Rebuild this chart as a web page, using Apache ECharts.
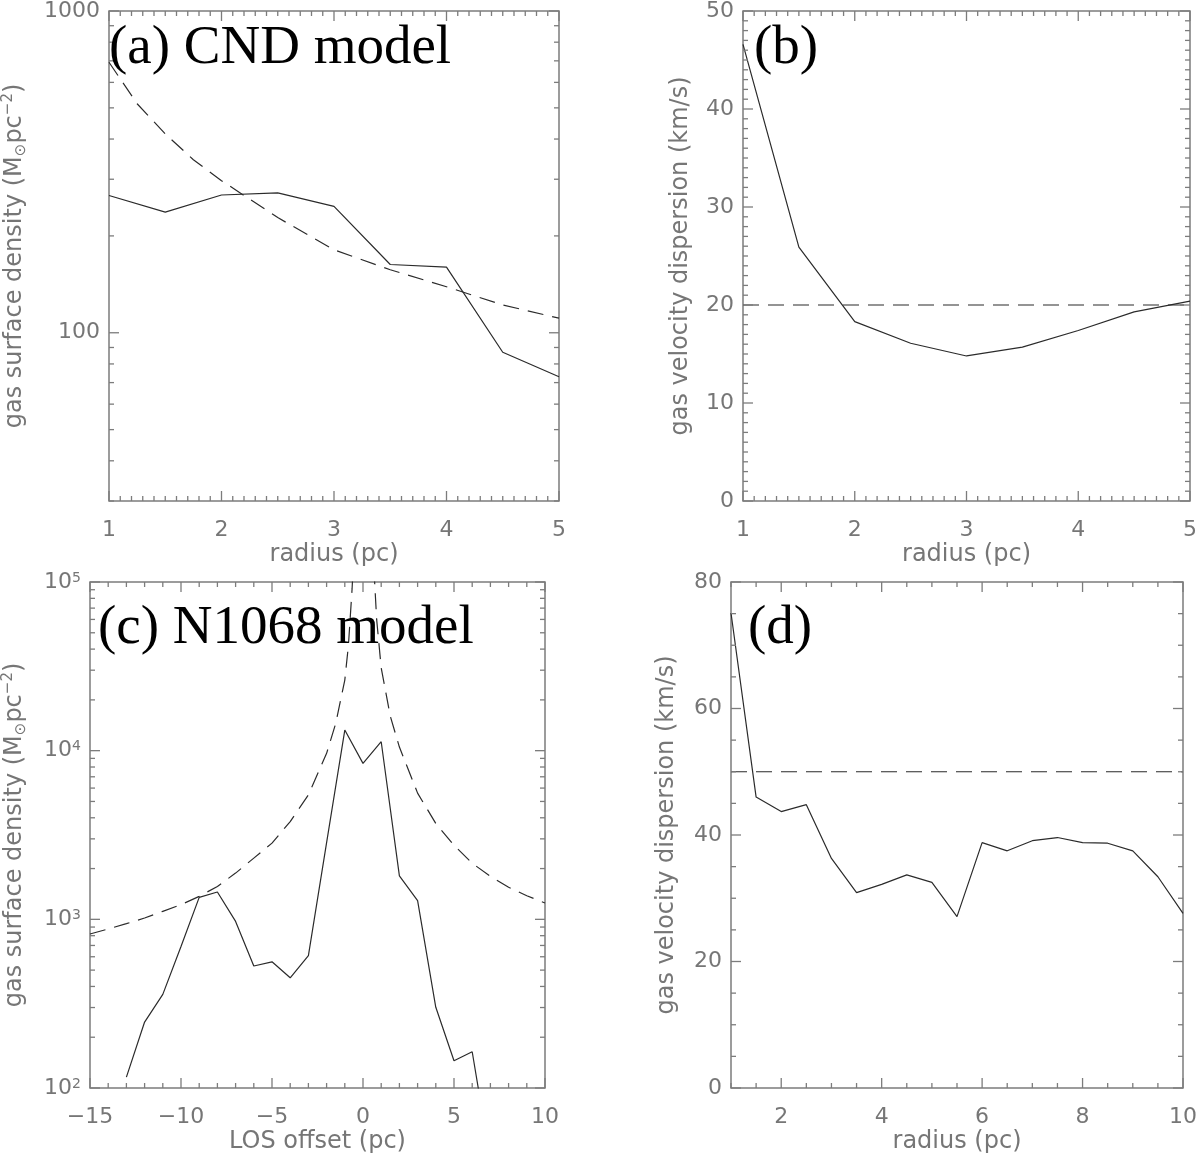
<!DOCTYPE html>
<html><head><meta charset="utf-8">
<script src="https://cdn.jsdelivr.net/npm/echarts@6/dist/echarts.min.js"></script>
<style>html,body{margin:0;padding:0;background:#fff}#c{width:1200px;height:1158px}</style>
</head><body><div id="c"></div>
<script>
// ---------- data ----------
// (a) CND model: gas surface density vs radius
const aRadius = [1, 1.5, 2, 2.5, 3, 3.5, 4, 4.5, 5];
const aDensity = [267, 237, 268, 272, 247, 163, 160, 87, 73];
const aModelRadius = [1, 1.25, 1.5, 1.75, 2, 2.5, 3, 3.5, 4, 4.5, 5];
const aModel = [693, 515, 415, 345, 297, 228, 181, 157, 139, 122, 111];
// (b) CND model: velocity dispersion vs radius
const bRadius = [1, 1.5, 2, 2.5, 3, 3.5, 4, 4.5, 5];
const bSigma = [46.6, 25.9, 18.3, 16.1, 14.8, 15.7, 17.4, 19.3, 20.4];
const bModelRadius = [1, 5];
const bModel = [20, 20];
// (c) N1068 model: gas surface density vs LOS offset
const cOffset = [-13, -12, -11, -10, -9, -8, -7, -6, -5, -4, -3, -2, -1, 0, 1, 2, 3, 4, 5, 6, 7];
const cDensity = [116, 246, 359, 690, 1350, 1452, 972, 529, 560, 450, 610, 2850, 13250, 8410, 11300, 1810, 1290, 301, 145, 164, 37];
const cModelOffset = [-15, -14, -13, -12, -11, -10, -9, -8, -7, -6, -5, -4, -3, -2, -1.5, -1, -0.8, -0.6, -0.5,
                      0.5, 0.6, 0.75, 1, 1.5, 2, 3, 4, 5, 6, 7, 8, 9, 10];
const cModel = [819, 877, 943, 1018, 1115, 1222, 1368, 1567, 1880, 2306, 2830, 3800, 5470, 9640, 14500, 26200, 42200, 91000, 150000,
                150000, 120000, 60000, 31000, 16000, 10500, 5600, 3700, 2750, 2150, 1800, 1550, 1380, 1250];
// (d) N1068 model: velocity dispersion vs radius
const dRadius = [1, 1.5, 2, 2.5, 3, 3.5, 4, 4.5, 5, 5.5, 6, 6.5, 7, 7.5, 8, 8.5, 9, 9.5, 10];
const dSigma = [75.1, 46.0, 43.7, 44.8, 36.3, 30.9, 32.2, 33.7, 32.5, 27.1, 38.8, 37.5, 39.1, 39.6, 38.8, 38.7, 37.5, 33.4, 27.6];
const dModelRadius = [1, 10];
const dModel = [50, 50];

// ---------- ticks / labels ----------
const aXMajor = [1, 2, 3, 4, 5];
const aYMajor = [100, 1000];
const aYMinor = [30, 40, 50, 60, 70, 80, 90, 200, 300, 400, 500, 600, 700, 800, 900];
const bXMajor = [1, 2, 3, 4, 5];
const bYMajor = [0, 10, 20, 30, 40, 50];
const cXMajor = [-15, -10, -5, 0, 5, 10];
const cYMajor = [100, 1000, 10000, 100000];
const cYMinor = [200, 300, 400, 500, 600, 700, 800, 900, 2000, 3000, 4000, 5000, 6000, 7000, 8000, 9000,
                 20000, 30000, 40000, 50000, 60000, 70000, 80000, 90000];
const dXMajor = [2, 4, 6, 8, 10];
const dYMajor = [0, 20, 40, 60, 80];

const titles = ['(a) CND model', '(b)', '(c) N1068 model', '(d)'];
const xNames = ['radius (pc)', 'radius (pc)', 'LOS offset (pc)', 'radius (pc)'];

// ---------- style ----------
const FONT = 'DejaVu Sans';
const TXT = '#767676';
const FRAME = '#7c7c7c';
const LINE = '#2b2b2b';
const DASH = [16, 9];

function steps(a, b, s) { const r = []; const n = Math.round((b - a) / s); for (let i = 0; i <= n; i++) r.push(+(a + i * s).toFixed(6)); return r; }
function pairs(xs, ys) { return xs.map((x, i) => [x, ys[i]]); }
function isDecade(v) { const l = Math.log10(v); return Math.abs(l - Math.round(l)) < 1e-6; }

function tickData(xMajor, xMinor, yMajor, yMinor, xRef, yRef) {
  const d = [];
  xMajor.forEach(v => d.push([v, yRef, 0, 1]));
  xMinor.forEach(v => { if (!xMajor.some(m => Math.abs(m - v) < 1e-9)) d.push([v, yRef, 0, 0]); });
  yMajor.forEach(v => d.push([xRef, v, 1, 1]));
  yMinor.forEach(v => { if (!yMajor.some(m => Math.abs(m - v) < 1e-9)) d.push([xRef, v, 1, 0]); });
  return d;
}
function tickSeries(gi, data) {
  return {
    type: 'custom', xAxisIndex: gi, yAxisIndex: gi, data: data, silent: true, clip: false, z: 5,
    encode: { x: 0, y: 1 }, animation: false,
    renderItem: function (params, api) {
      const cs = params.coordSys;
      const p = api.coord([api.value(0), api.value(1)]);
      const len = api.value(3) ? 10 : 5;
      const st = { stroke: FRAME, lineWidth: 1.3 };
      if (api.value(2) === 0) {
        const x = p[0];
        return { type: 'group', children: [
          { type: 'line', shape: { x1: x, y1: cs.y + cs.height, x2: x, y2: cs.y + cs.height - len }, style: st },
          { type: 'line', shape: { x1: x, y1: cs.y, x2: x, y2: cs.y + len }, style: st }] };
      } else {
        const y = p[1];
        return { type: 'group', children: [
          { type: 'line', shape: { x1: cs.x, y1: y, x2: cs.x + len, y2: y }, style: st },
          { type: 'line', shape: { x1: cs.x + cs.width, y1: y, x2: cs.x + cs.width - len, y2: y }, style: st }] };
      }
    }
  };
}

const labelStyle = { fontFamily: FONT, fontSize: 22, color: TXT };
const nameStyle = { fontFamily: FONT, fontSize: 24, color: TXT };
function xAx(gi, min, max, interval, name, fmt) {
  return {
    type: 'value', gridIndex: gi, min: min, max: max, interval: interval,
    name: name, nameLocation: 'middle', nameGap: 42,
    nameTextStyle: Object.assign({}, nameStyle),
    axisLine: { show: false }, axisTick: { show: false }, splitLine: { show: false },
    axisLabel: Object.assign({ margin: 18, formatter: fmt, showMinLabel: true, showMaxLabel: true }, labelStyle)
  };
}
const nameRich = {
  sub: { fontFamily: FONT, fontSize: 15, color: TXT, padding: [12, 0, 0, 0] },
  sup: { fontFamily: FONT, fontSize: 15, color: TXT, padding: [0, 0, 13, 0] }
};
function yAx(gi, type, min, max, interval, name, gap, fmt, rich) {
  const ax = {
    type: type, gridIndex: gi, min: min, max: max,
    name: name, nameLocation: 'middle', nameGap: gap, nameRotate: 90,
    nameTextStyle: Object.assign({ rich: nameRich }, nameStyle),
    axisLine: { show: false }, axisTick: { show: false }, splitLine: { show: false },
    axisLabel: Object.assign({ margin: 9, formatter: fmt }, labelStyle)
  };
  if (interval != null) ax.interval = interval;
  if (type === 'log') ax.logBase = 10;
  if (rich) ax.axisLabel.rich = rich;
  return ax;
}

const powRich = {
  b: { fontFamily: FONT, fontSize: 22, color: TXT, lineHeight: 22, verticalAlign: 'bottom' },
  s: { fontFamily: FONT, fontSize: 14, color: TXT, lineHeight: 14, padding: [0, 0, 8, 0], verticalAlign: 'top' }
};

const gridBase = { show: true, borderColor: FRAME, borderWidth: 1.5, backgroundColor: 'transparent', containLabel: false };
const grids = [
  Object.assign({ left: 109, top: 1, width: 450, height: 500 }, gridBase),
  Object.assign({ left: 743, top: 1, width: 450, height: 500 }, gridBase),
  Object.assign({ left: 90, top: 582, width: 455, height: 506 }, gridBase),
  Object.assign({ left: 731, top: 582, width: 456, height: 506 }, gridBase)
];

const titleStyle = { fontFamily: 'Liberation Serif', fontSize: 55, fontWeight: 'normal', color: '#000' };
const titleComps = [
  { text: titles[0], left: 109, top: 21, padding: 0, textStyle: titleStyle },
  { text: titles[1], left: 754, top: 21, padding: 0, textStyle: titleStyle },
  { text: titles[2], left: 98, top: 601, padding: 0, textStyle: titleStyle },
  { text: titles[3], left: 748, top: 601, padding: 0, textStyle: titleStyle }
];

const minusFmt = v => String(v).replace('-', '\u2212');

const option = {
  animation: false,
  backgroundColor: '#fff',
  title: titleComps,
  grid: grids,
  xAxis: [
    xAx(0, 1, 5, 1, xNames[0], v => String(v)),
    xAx(1, 1, 5, 1, xNames[1], v => String(v)),
    xAx(2, -15, 10, 5, xNames[2], minusFmt),
    xAx(3, 1, 10, 1, xNames[3], v => (dXMajor.indexOf(v) >= 0 ? String(v) : ''))
  ],
  yAxis: [
    yAx(0, 'log', 30, 1000, null, 'gas surface density (M{sub|⊙}pc{sup|−2})', 80,
        v => (isDecade(v) ? String(Math.round(v)) : '')),
    yAx(1, 'value', 0, 50, 10, 'gas velocity dispersion (km/s)', 50, v => String(v)),
    yAx(2, 'log', 100, 100000, null, 'gas surface density (M{sub|⊙}pc{sup|−2})', 61,
        v => (isDecade(v) ? '{b|10}{s|' + String(Math.round(Math.log10(v))) + '}' : ''), powRich),
    yAx(3, 'value', 0, 80, 20, 'gas velocity dispersion (km/s)', 52, v => String(v))
  ],
  series: [
    tickSeries(0, tickData(aXMajor, steps(1, 5, 0.1), aYMajor, aYMinor, 3, 100)),
    tickSeries(1, tickData(bXMajor, steps(1, 5, 0.1), bYMajor, steps(0, 50, 1), 3, 25)),
    tickSeries(2, tickData(cXMajor, steps(-15, 10, 1), cYMajor, cYMinor, 0, 1000)),
    tickSeries(3, tickData(dXMajor, steps(1, 10, 0.5), dYMajor, steps(0, 80, 5), 5, 40)),
    { type: 'line', xAxisIndex: 0, yAxisIndex: 0, data: pairs(aRadius, aDensity), symbol: 'none', lineStyle: { color: LINE, width: 1.2 } },
    { type: 'line', xAxisIndex: 0, yAxisIndex: 0, data: pairs(aModelRadius, aModel), symbol: 'none', lineStyle: { color: LINE, width: 1.2, type: DASH } },
    { type: 'line', xAxisIndex: 1, yAxisIndex: 1, data: pairs(bRadius, bSigma), symbol: 'none', lineStyle: { color: LINE, width: 1.2 } },
    { type: 'line', xAxisIndex: 1, yAxisIndex: 1, data: pairs(bModelRadius, bModel), symbol: 'none', lineStyle: { color: LINE, width: 1.2, type: DASH } },
    { type: 'line', xAxisIndex: 2, yAxisIndex: 2, data: pairs(cOffset, cDensity), symbol: 'none', lineStyle: { color: LINE, width: 1.2 } },
    { type: 'line', xAxisIndex: 2, yAxisIndex: 2, data: pairs(cModelOffset, cModel), symbol: 'none', lineStyle: { color: LINE, width: 1.2, type: DASH } },
    { type: 'line', xAxisIndex: 3, yAxisIndex: 3, data: pairs(dRadius, dSigma), symbol: 'none', lineStyle: { color: LINE, width: 1.2 } },
    { type: 'line', xAxisIndex: 3, yAxisIndex: 3, data: pairs(dModelRadius, dModel), symbol: 'none', lineStyle: { color: LINE, width: 1.2, type: DASH } }
  ]
};

const chart = echarts.init(document.getElementById('c'), null, { renderer: 'canvas' });
chart.setOption(option);
</script>
</body></html>
